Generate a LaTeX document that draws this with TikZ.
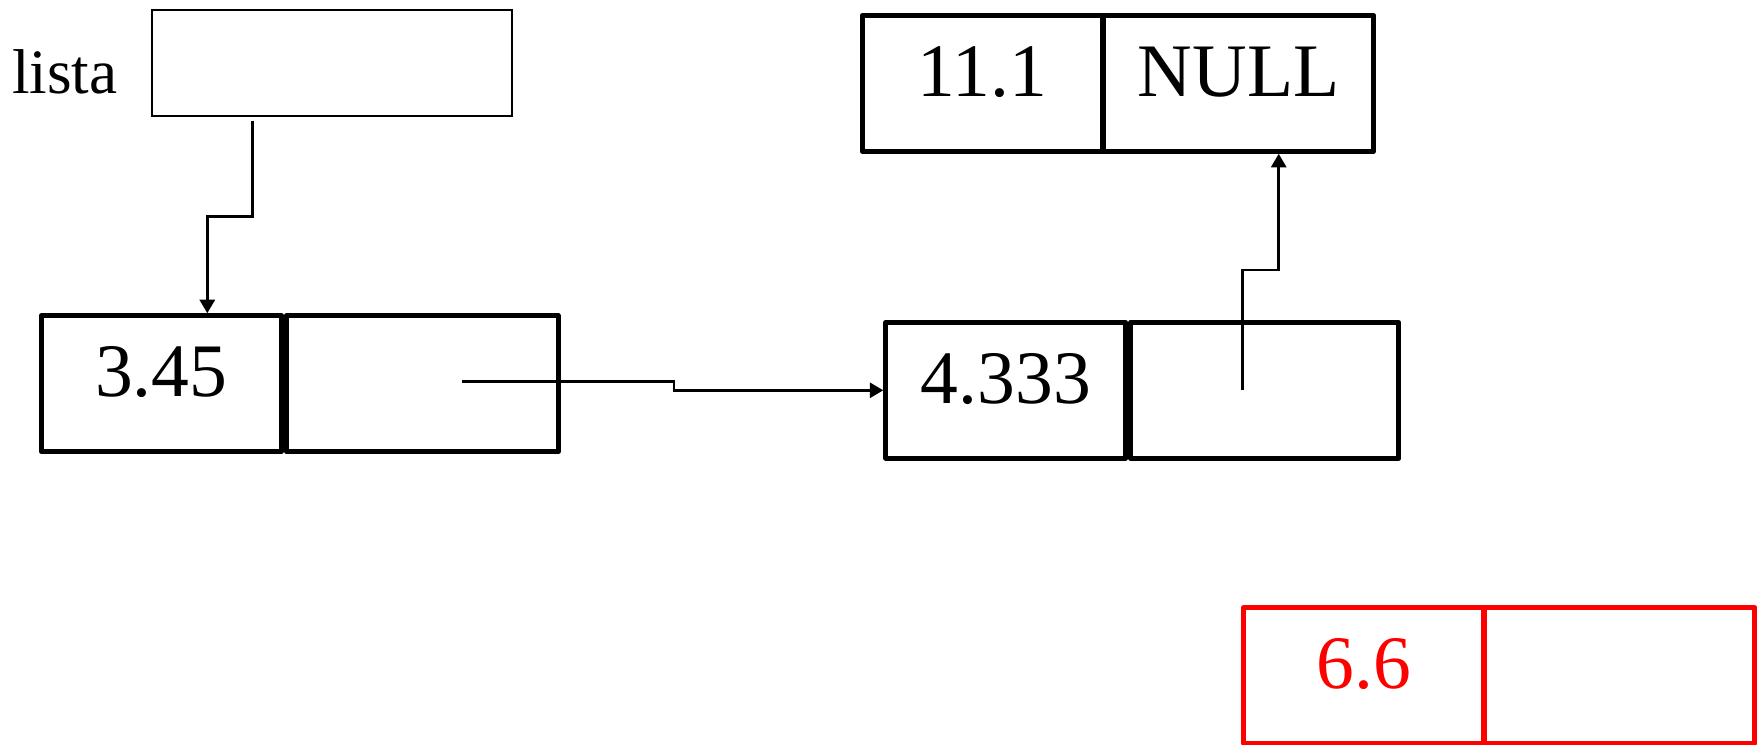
\documentclass[tikz,border=0pt]{standalone}
\usepackage{fontspec}
\setmainfont{Liberation Serif}
\usetikzlibrary{positioning}
\usetikzlibrary{arrows.meta}

\begin{document}
\begin{tikzpicture}[
   cell/.style={draw, line width=1.4pt, line join=round, minimum height=1.36cm, text depth=0.24cm,
      inner sep=0pt, font=\fontsize{21.5}{26}\selectfont},
   valcell/.style={cell, minimum width=2.40cm},
   ptrcell/.style={cell, minimum width=2.70cm},
   link/.style={line width=0.8pt, -{Triangle[length=1.35mm,width=1.5mm]}}
]
   \useasboundingbox (0,0) rectangle (17.6,7.44);
   \node[draw, line width=0.5pt, minimum width=3.60cm, minimum height=1.056cm] (listaptr) at (3.318,6.81) {};
   \node[anchor=base west, inner sep=0pt, font=\fontsize{18}{22}\selectfont] (listalbl) at (0.115,6.507) {lista};

   \node[valcell] (v1) at (1.613,3.603) {3.45};
   \node[ptrcell, minimum width=2.72cm, right=0pt of v1] (p1) {};
   \node[valcell] (v2) at (10.058,3.537) {4.333};
   \node[ptrcell, minimum width=2.68cm, right=0pt of v2] (p2) {};
   \node[valcell] (v3) at (9.822,6.607) {11.1};
   \node[ptrcell, right=-0.035cm of v3] (p3) {NULL};
   \node[valcell, red] (v4) at (13.637,0.685) {6.6};
   \node[ptrcell, red, right=-0.04cm of v4] (p4) {};

   \coordinate (l0) at (2.523,6.233);
   \coordinate (c1) at (4.617,3.623);
   \coordinate (c2) at (12.423,3.54);
   \draw[link] (l0) -- ++(0,-0.96) -| ([xshift=0.46cm]v1.north);
   \draw[link] (c1) -- ++(2.123,0) |- (v2.west);
   \draw[link] (c2) -- ++(0,1.2) -| ([xshift=0.401cm]p3.south);
\end{tikzpicture}
\end{document}
